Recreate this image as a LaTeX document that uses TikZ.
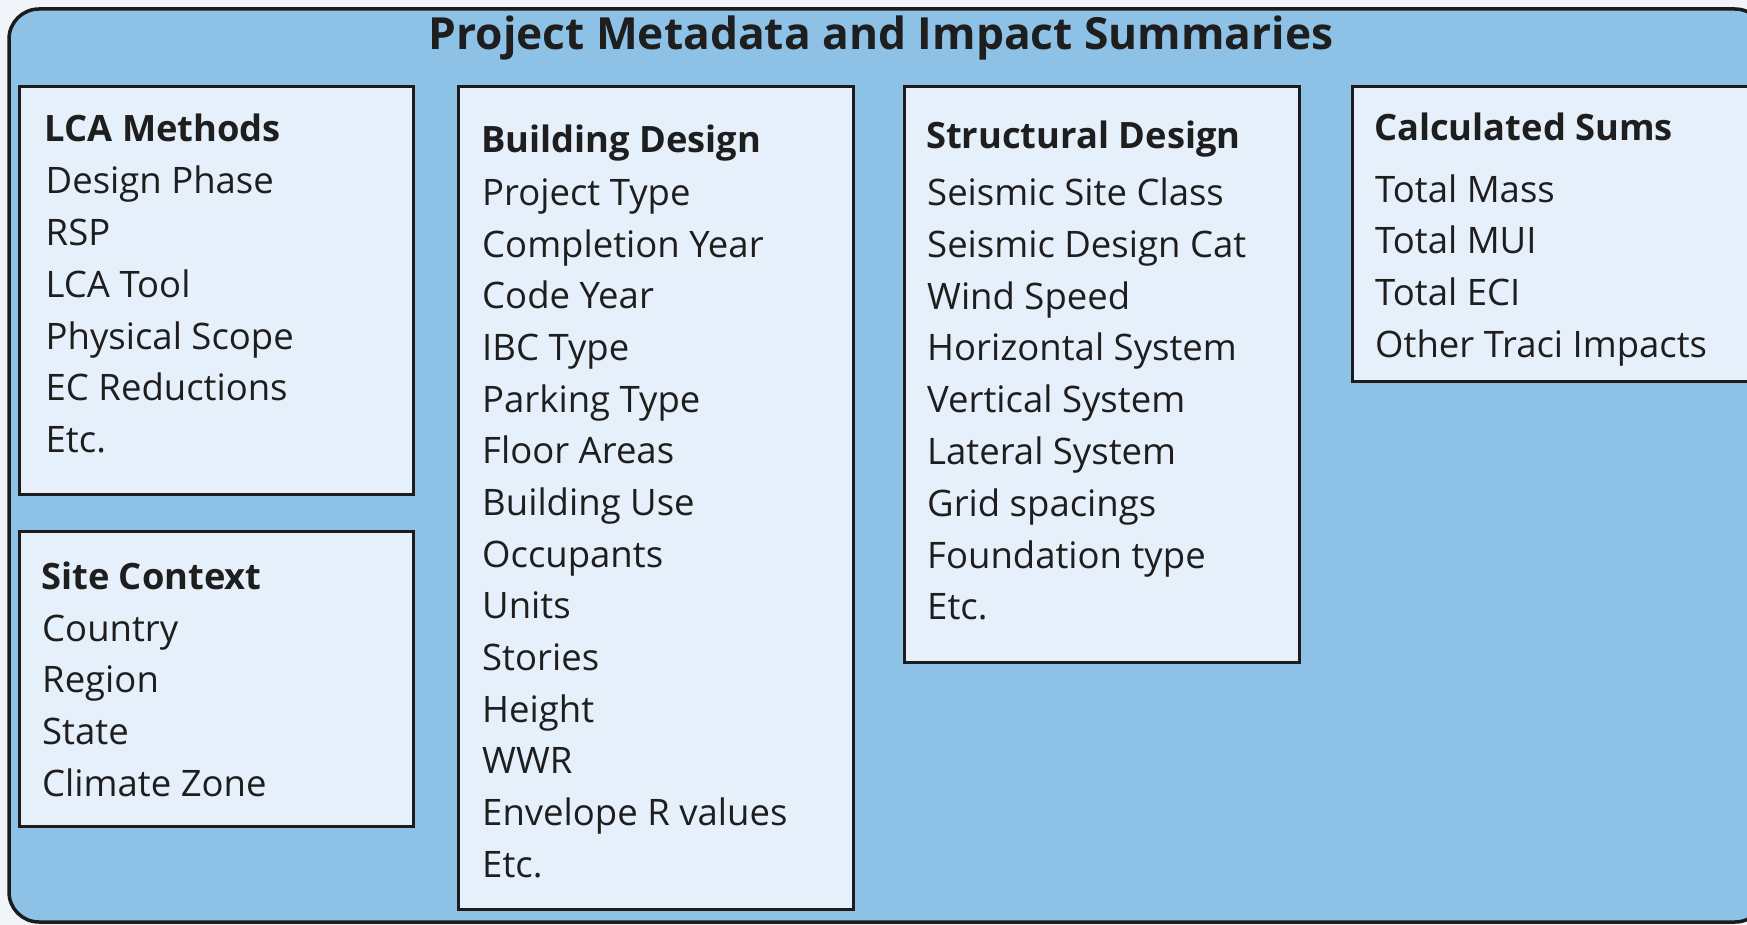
\documentclass[tikz,border=0pt]{standalone}
\usepackage{fontspec}
\setmainfont{Open Sans}
\definecolor{pagebg}{HTML}{F1F5F9}
\definecolor{outerfill}{HTML}{8DC2E6}
\definecolor{innerfill}{HTML}{E6F0FA}
\definecolor{edge}{HTML}{1C1C1C}
\definecolor{ink}{HTML}{1E1E1E}
\begin{document}
\begin{tikzpicture}[x=1pt,y=-1pt,
  outerbox/.style={draw=edge,line width=3.5pt,fill=outerfill,rounded corners=30pt},
  panel/.style={draw=edge,line width=3pt,fill=innerfill},
  ttl/.style={anchor=base,inner sep=0pt,text=ink,font=\fontsize{44.3}{50}\selectfont\bfseries},
  hdr/.style={anchor=base west,inner sep=0pt,text=ink,font=\fontsize{36.3}{42}\selectfont\bfseries},
  item/.style={anchor=base west,inner sep=0pt,text=ink,font=\fontsize{36.5}{42}\selectfont}]
\useasboundingbox (0,0) rectangle (1747,925);
\clip (0,0) rectangle (1747,925);
\fill[pagebg] (0,0) rectangle (1747,925);
\draw[outerbox] (9,9) rectangle (1765,922);
\node[ttl] (title) at (881,50) {Project Metadata and Impact Summaries};
% panels
\draw[panel] (19,87) rectangle (413,494);
\draw[panel] (19,531) rectangle (413,826);
\draw[panel] (458,87) rectangle (853,909);
\draw[panel] (904,87) rectangle (1299,662);
\draw[panel] (1352,87) rectangle (1752,381);
% LCA Methods
\node[hdr] (lcah) at (44.5,142) {LCA Methods};
\foreach \t [count=\i] in {Design Phase,RSP,LCA Tool,Physical Scope,EC Reductions,Etc.}
  \node[item] (lca\i) at (45.5,{193.3+(\i-1)*51.9}) {\t};
% Site Context
\node[hdr] (siteh) at (41,589) {Site Context};
\foreach \t [count=\i] in {Country,Region,State,Climate Zone}
  \node[item] (site\i) at (42,{641.2+(\i-1)*51.7}) {\t};
% Building Design
\node[hdr] (bldh) at (481,153) {Building Design};
\foreach \t [count=\i] in {Project Type,Completion Year,Code Year,IBC Type,Parking Type,Floor Areas,Building Use,Occupants,Units,Stories,Height,WWR,Envelope R values,Etc.}
  \node[item] (bld\i) at (482,{205.5+(\i-1)*51.68}) {\t};
% Structural Design
\node[hdr] (strh) at (926,148.7) {Structural Design};
\foreach \t [count=\i] in {Seismic Site Class,Seismic Design Cat,Wind Speed,Horizontal System,Vertical System,Lateral System,Grid spacings,Foundation type,Etc.}
  \node[item] (str\i) at (927,{205.5+(\i-1)*51.8}) {\t};
% Calculated Sums
\node[hdr] (calh) at (1374,141) {Calculated Sums};
\foreach \t [count=\i] in {Total Mass,Total MUI,Total ECI,Other Traci Impacts}
  \node[item] (cal\i) at (1375,{202.2+(\i-1)*51.6}) {\t};
\end{tikzpicture}
\end{document}
